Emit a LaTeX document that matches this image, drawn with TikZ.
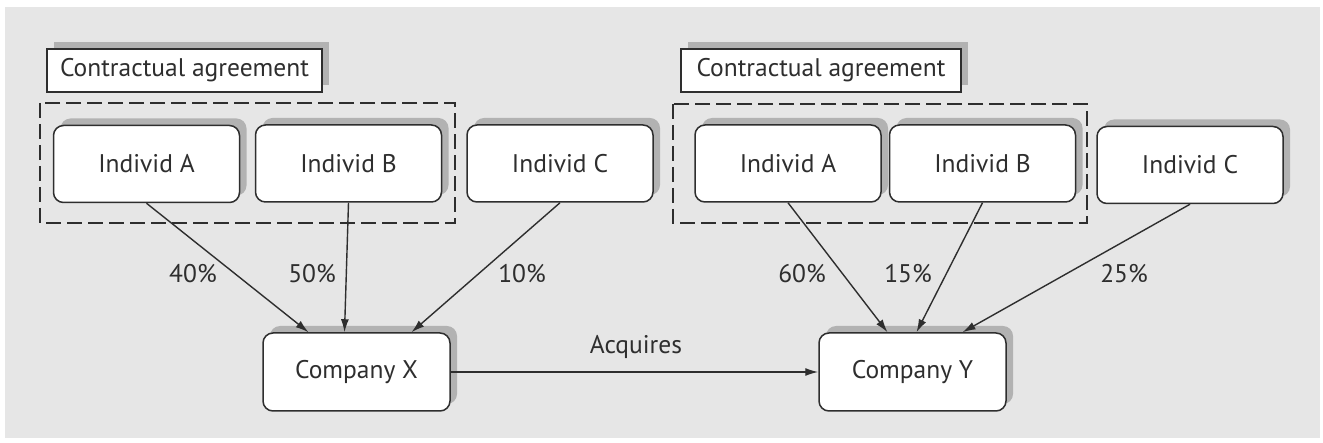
\documentclass[tikz,border=0pt]{standalone}
\usepackage{fontspec}
\setmainfont{PT Sans}
\usetikzlibrary{arrows.meta,shadows}
\definecolor{panelgray}{HTML}{E6E6E6}
\definecolor{shadegray}{HTML}{B2B2B2}
\definecolor{inkgray}{HTML}{2E2E2E}
\begin{document}
\begin{tikzpicture}[x=1pt,y=-1pt,
  font=\fontsize{25.5}{28}\selectfont, text=inkgray,
  shade/.style={drop shadow={shadow xshift=7pt, shadow yshift=7pt, fill=shadegray, opacity=1}},
  person/.style={draw=inkgray, line width=1.5pt, fill=white, rounded corners=10pt,
    minimum width=186pt, minimum height=77pt, inner sep=0pt, shade},
  firm/.style={person, minimum width=187pt, minimum height=78pt},
  tagbox/.style={draw=inkgray, line width=1.5pt, fill=white, minimum width=275pt,
    minimum height=43pt, inner sep=0pt, shade},
  groupbox/.style={draw=inkgray, line width=1.3pt, dash pattern=on 15pt off 6pt},
  link/.style={draw=inkgray, line width=1.4pt, -{Latex[length=13pt,width=8pt]}},
  pct/.style={inner sep=0pt}
]
% canvas and panel
\useasboundingbox (0,0) rectangle (1323,443);
\fill[white] (0,0) rectangle (1323,443);
\fill[panelgray] (5,7) rectangle (1320,438);

% agreement groups
\draw[groupbox] (40,103) rectangle (455,223);
\draw[groupbox] (673,104) rectangle (1087,223);
\node[tagbox] (tagL) at (184.5,70.5) {Contractual agreement};
\node[tagbox, minimum width=280pt] (tagR) at (821,70.5) {Contractual agreement};

% individuals
\node[person] (lA) at (146.5,164) {Individ A};
\node[person] (lB) at (348.5,163.5) {Individ B};
\node[person] (lC) at (560,163.5) {Individ C};
\node[person] (rA) at (788,163.5) {Individ A};
\node[person] (rB) at (982.5,163.5) {Individ B};
\node[person] (rC) at (1190,165) {Individ C};

% companies
\node[firm] (cX) at (356.5,372) {Company X};
\node[firm] (cY) at (912.5,372) {Company Y};

% ownership links
\draw[link] (lA.south) -- ([xshift=-48pt]cX.north);
\draw[link] (lB.south) -- ([xshift=-12pt]cX.north);
\draw[link] (lC.south) -- ([xshift=55pt]cX.north);
\draw[link] (rA.south) -- ([xshift=-25pt]cY.north);
\draw[link] (rB.south) -- ([xshift=4pt]cY.north);
\draw[link] (rC.south) -- ([xshift=50pt]cY.north);

% acquisition
\draw[link] (cX.east) -- (cY.west);
\node[pct] (acq) at (636,347) {Acquires};

% shares
\node[pct] (pLA) at (193,274) {40\%};
\node[pct] (pLB) at (312,274) {50\%};
\node[pct] (pLC) at (522,274) {10\%};
\node[pct] (pRA) at (802,274) {60\%};
\node[pct] (pRB) at (908,274) {15\%};
\node[pct] (pRC) at (1124,274) {25\%};
\end{tikzpicture}
\end{document}
